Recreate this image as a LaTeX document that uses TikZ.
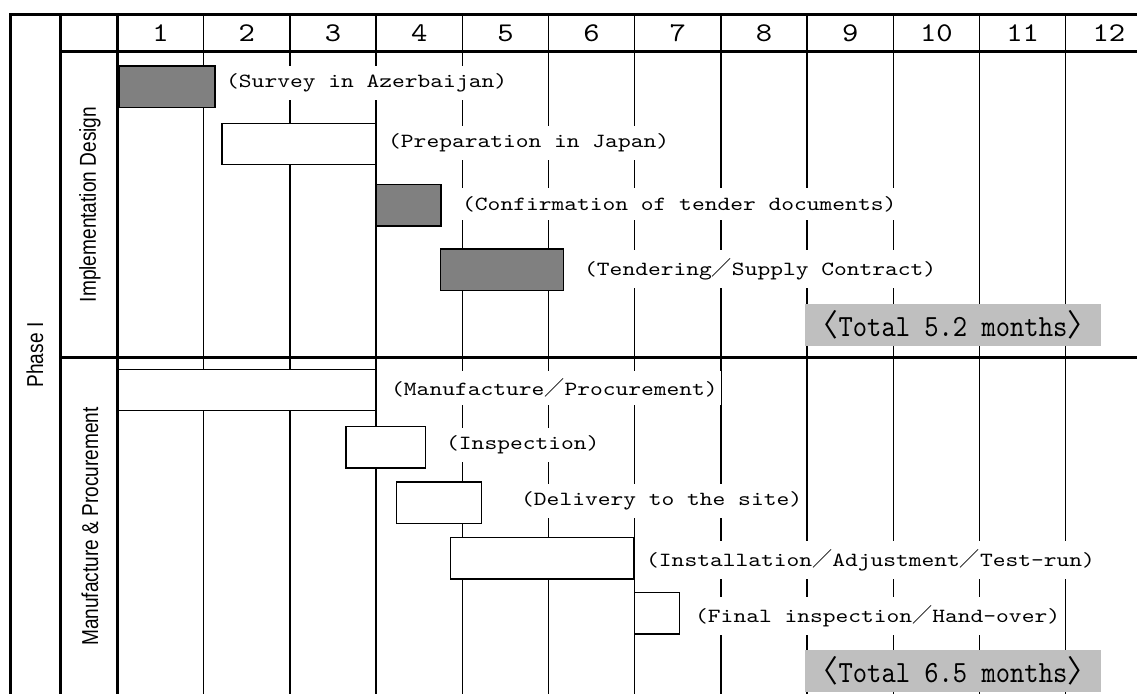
\documentclass[tikz,border=0pt]{standalone}
\usepackage{fontspec}
\usepackage{tikz}
\newfontfamily\labelfont[FakeStretch=1.21]{lmmono10-regular.otf}
\newfontfamily\numfont[FakeStretch=1.15]{lmmono10-regular.otf}
\newfontfamily\totalfont[FakeStretch=0.884]{lmmono10-regular.otf}
\newfontfamily\narrowsans[FakeStretch=0.83]{Liberation Sans}
\newfontfamily\cjk{Noto Sans CJK JP}
\newcommand{\fwslash}{{\cjk ／}}
\newcommand{\fwopen}{{\cjk 〈}}
\newcommand{\fwclose}{{\cjk 〉}}
\tikzstyle{frame}=[line width=3pt]
\tikzstyle{grid}=[line width=1.3pt]
\tikzstyle{bar}=[draw=black,line width=1.6pt,fill=white,inner sep=0pt,anchor=north west]
\tikzstyle{workbar}=[bar,fill=black!50]
\tikzstyle{task}=[fill=white,anchor=west,inner xsep=3pt,inner ysep=8pt,font=\labelfont\fontsize{20.1}{22}\selectfont]
\tikzstyle{total}=[fill=black!25,minimum width=296pt,minimum height=42pt,inner sep=0pt,font=\totalfont\fontsize{30.8}{32}\selectfont]
\tikzstyle{month}=[inner sep=0pt,font=\numfont\fontsize{27}{27}\selectfont]
\tikzstyle{side}=[rotate=90,inner sep=0pt,font=\narrowsans\fontsize{23}{24}\selectfont]

\begin{document}
\begin{tikzpicture}[x=1pt,y=-1pt]
    \useasboundingbox (0,0) rectangle (1137,693);
    % month columns
    \draw[grid] (203.7,15) -- (203.7,696);
    \draw[grid] (289.9,15) -- (289.9,696);
    \draw[grid] (376.1,15) -- (376.1,696);
    \draw[grid] (462.3,15) -- (462.3,696);
    \draw[grid] (548.5,15) -- (548.5,696);
    \draw[grid] (634.7,15) -- (634.7,696);
    \draw[grid] (720.9,15) -- (720.9,696);
    \draw[grid] (807.1,15) -- (807.1,696);
    \draw[grid] (893.3,15) -- (893.3,696);
    \draw[grid] (979.5,15) -- (979.5,696);
    \draw[grid] (1065.7,15) -- (1065.7,696);
    % frame
    \draw[frame] (1140,15) -- (10,15) -- (10,696);
    \draw[frame] (60,15) -- (60,696);
    \draw[frame] (117.5,15) -- (117.5,696);
    \draw[frame] (60,52) -- (1140,52);
    \draw[frame] (60,357) -- (1140,357);
    % header
    \node[month] (m1) at (160.6,33.5) {1};
    \node[month] (m2) at (246.8,33.5) {2};
    \node[month] (m3) at (333.0,33.5) {3};
    \node[month] (m4) at (419.2,33.5) {4};
    \node[month] (m5) at (505.4,33.5) {5};
    \node[month] (m6) at (591.6,33.5) {6};
    \node[month] (m7) at (677.8,33.5) {7};
    \node[month] (m8) at (764.0,33.5) {8};
    \node[month] (m9) at (850.2,33.5) {9};
    \node[month] (m10) at (936.4,33.5) {10};
    \node[month] (m11) at (1022.6,33.5) {11};
    \node[month] (m12) at (1108.8,33.5) {12};
    \node[side] (phase) at (35,355) {Phase I};
    \node[side] (design) at (90,204.5) {Implementation Design};
    \node[side] (procure) at (90,526.5) {Manufacture \& Procurement};
    % implementation design
    \node[workbar,minimum width=96pt,minimum height=41.5pt] (survey) at (118.3,65.1) {};
    \node[bar,minimum width=154pt,minimum height=41pt] (prep) at (221.3,122.8) {};
    \node[workbar,minimum width=65pt,minimum height=41.5pt] (confirm) at (375.3,183.5) {};
    \node[workbar,minimum width=123pt,minimum height=41.5pt] (tender) at (439.5,248.1) {};
    \node[task] (surveytxt) at (223,83) {(Survey in Azerbaijan)};
    \node[task] (preptxt) at (385,143) {(Preparation in Japan)};
    \node[task] (confirmtxt) at (459,204) {(Confirmation of tender documents)};
    \node[task] (tendertxt) at (581,269) {(Tendering\fwslash Supply Contract)};
    \node[total] (total1) at (953,325) {\fwopen Total 5.2 months\fwclose};
    % manufacture & procurement
    \node[bar,minimum width=257pt,minimum height=41pt] (manuf) at (117.8,368.8) {};
    \node[bar,minimum width=79.5pt,minimum height=41.5pt] (insp) at (345.3,425.8) {};
    \node[bar,minimum width=85pt,minimum height=41.5pt] (deliv) at (395.8,481.1) {};
    \node[bar,minimum width=183pt,minimum height=41.5pt] (install) at (449.8,536.5) {};
    \node[bar,minimum width=45pt,minimum height=41.5pt] (final) at (633.6,591.8) {};
    \node[task] (manuftxt) at (388,388) {(Manufacture\fwslash Procurement)};
    \node[task] (insptxt) at (443,445) {(Inspection)};
    \node[task] (delivtxt) at (518,501) {(Delivery to the site)};
    \node[task] (installtxt) at (643,560) {(Installation\fwslash Adjustment\fwslash Test-run)};
    \node[task] (finaltxt) at (692,616) {(Final inspection\fwslash Hand-over)};
    \node[total] (total2) at (953,671) {\fwopen Total 6.5 months\fwclose};
\end{tikzpicture}
\end{document}
